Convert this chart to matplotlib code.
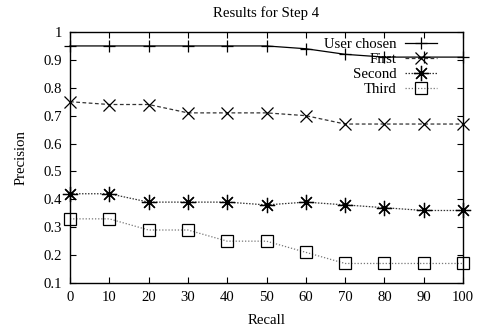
import matplotlib
matplotlib.use("Agg")
import matplotlib.pyplot as plt

recall = [0, 10, 20, 30, 40, 50, 60, 70, 80, 90, 100]
user_chosen = [0.95, 0.95, 0.95, 0.95, 0.95, 0.95, 0.94, 0.92, 0.91, 0.91, 0.91]
first = [0.75, 0.74, 0.74, 0.71, 0.71, 0.71, 0.70, 0.67, 0.67, 0.67, 0.67]
second = [0.42, 0.42, 0.39, 0.39, 0.39, 0.38, 0.39, 0.38, 0.37, 0.36, 0.36]
third = [0.33, 0.33, 0.29, 0.29, 0.25, 0.25, 0.21, 0.17, 0.17, 0.17, 0.17]
yticks = [0.1, 0.2, 0.3, 0.4, 0.5, 0.6, 0.7, 0.8, 0.9, 1.0]
ytick_labels = ["0.1", "0.2", "0.3", "0.4", "0.5", "0.6", "0.7", "0.8", "0.9", "1"]

plt.rcParams['font.family'] = ['Liberation Serif', 'DejaVu Serif']
fs = 10.6

fig = plt.figure(figsize=(4.79, 3.30), dpi=100)
ax = fig.add_axes([70/479, 1 - 283/330, 393/479, 251/330])

ms = 9
ax.plot(recall, user_chosen, color='black', lw=0.9, linestyle='-',
        marker='+', markersize=ms, markeredgewidth=0.9, label='User chosen', clip_on=False)
ax.plot(recall, first, color='#333333', lw=0.9, linestyle=(0, (3, 2)),
        marker='x', markersize=ms, markeredgewidth=0.9, markeredgecolor='black',
        label='First', clip_on=False)
ax.plot(recall, second, color='#333333', lw=0.9, linestyle=(0, (1.2, 1.2)),
        marker=(8, 2, 0), markersize=ms + 2, markeredgewidth=0.9, markeredgecolor='black',
        label='Second', clip_on=False)
ax.plot(recall, third, color='#777777', lw=0.9, linestyle=(0, (1, 1.5)),
        marker='s', markersize=ms, markeredgewidth=0.9, markeredgecolor='black',
        markerfacecolor='none', label='Third', clip_on=False)

ax.set_xlim(0, 100)
ax.set_ylim(0.1, 1.0)
ax.set_xticks(recall)
ax.set_xticklabels([str(r) for r in recall], fontsize=fs)
ax.set_yticks(yticks)
ax.set_yticklabels(ytick_labels, fontsize=fs)
ax.tick_params(direction='in', top=True, right=True, length=4, width=0.8, pad=6)
for s in ax.spines.values():
    s.set_linewidth(1.0)

ax.set_xlabel('Recall', fontsize=fs, labelpad=7)
ax.set_ylabel('Precision', fontsize=fs, labelpad=11)
ax.set_title('Results for Step 4', fontsize=fs, pad=11)

leg = ax.legend(loc='upper right', bbox_to_anchor=(0.934, 0.978), frameon=False,
                markerfirst=False, fontsize=fs, handlelength=2.2, handletextpad=0.55,
                labelspacing=0.12, borderpad=0, borderaxespad=0)

fig.savefig('out.png', dpi=100)
